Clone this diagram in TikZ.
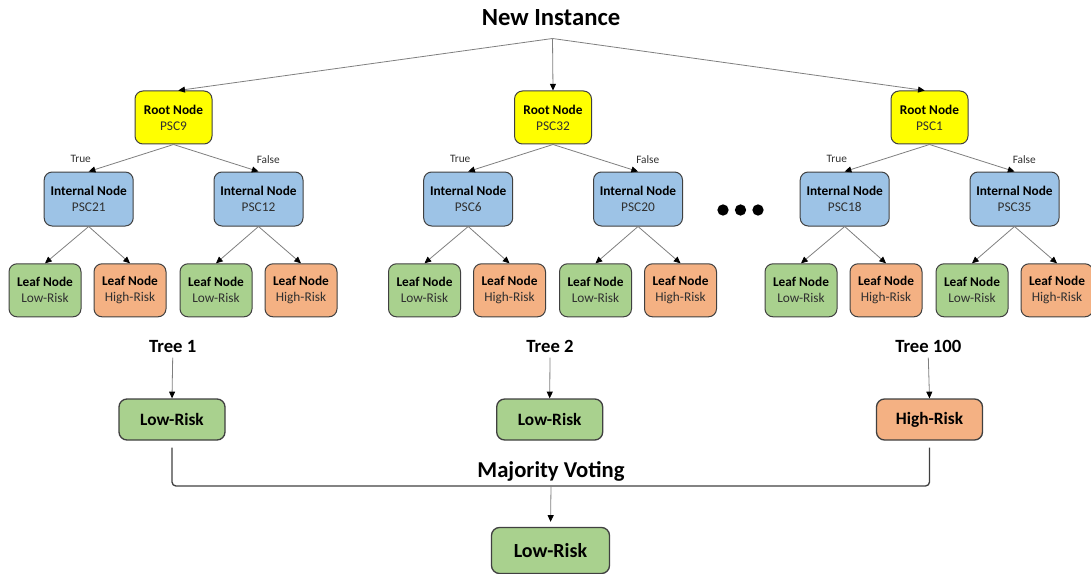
\documentclass[tikz,border=0pt]{standalone}
\usepackage{fontspec}
\setmainfont{Carlito}
\usetikzlibrary{arrows.meta,calc}

\definecolor{rootfill}{HTML}{FFFF00}
\definecolor{intfill}{HTML}{9DC3E6}
\definecolor{lowfill}{HTML}{A9D18E}
\definecolor{highfill}{HTML}{F4B183}
\definecolor{boxedge}{HTML}{404040}
\definecolor{linkgray}{HTML}{7F7F7F}
\definecolor{subtext}{HTML}{303030}

% two-line node label: bold heading, regular value below
\newcommand{\nodetext}[2]{\textbf{#1}\\\textcolor{subtext}{#2}}

\begin{document}
\begin{tikzpicture}[x=0.75pt,y=-0.75pt,
  box/.style={draw=boxedge, line width=0.75pt, rounded corners=6pt, align=center,
    inner sep=0pt, font=\fontsize{10}{12}\selectfont},
  rootbox/.style={box, fill=rootfill, minimum width=57.75pt, minimum height=39.75pt},
  intbox/.style={box, fill=intfill, minimum width=66.75pt, minimum height=40.5pt},
  leafbox/.style={box, minimum width=54pt, minimum height=39.75pt},
  lowleaf/.style={leafbox, fill=lowfill},
  highleaf/.style={leafbox, fill=highfill},
  votebox/.style={draw=boxedge, line width=1pt, rounded corners=6pt, inner sep=0pt,
    font=\bfseries\fontsize{13}{15}\selectfont, minimum width=79.5pt, minimum height=30.75pt},
  finalbox/.style={votebox, fill=lowfill, font=\bfseries\fontsize{15}{18}\selectfont,
    minimum width=88.5pt, minimum height=34.5pt},
  link/.style={draw=linkgray, line width=0.6pt, -{Triangle[length=5pt,width=4.5pt,color=black]}},
  branchlabel/.style={font=\fontsize{8.5}{10}\selectfont, text=subtext, inner sep=0pt},
  treelabel/.style={font=\bfseries\fontsize{14}{16}\selectfont},
  heading/.style={font=\bfseries\fontsize{17}{20}\selectfont},
  dot/.style={circle, fill=black, inner sep=0pt, minimum size=8.5pt},
  voteline/.style={draw=boxedge, line width=1pt, rounded corners=3pt}
]
\useasboundingbox (0,0) rectangle (1091,574);

% incoming instance
\node[font=\bfseries\fontsize{18.5}{22}\selectfont] (title) at (551,18) {New Instance};
\coordinate (apex) at (552.5,38.5);

% three decision trees
\foreach \t/\dx/\rl/\il/\ir in {1/0/PSC9/PSC21/PSC12, 2/379.5/PSC32/PSC6/PSC20, 3/756/PSC1/PSC18/PSC35}{
  \node[rootbox] (r\t) at (173.5+\dx,117.5) {\nodetext{Root Node}{\rl}};
  \node[intbox] (a\t) at (88.7+\dx,199) {\nodetext{Internal Node}{\il}};
  \node[intbox] (b\t) at (258.5+\dx,199) {\nodetext{Internal Node}{\ir}};
  \node[lowleaf]  (la\t) at (45+\dx,290.3)  {\nodetext{Leaf Node}{Low-Risk}};
  \node[highleaf] (ha\t) at (130+\dx,290.3) {\nodetext{Leaf Node}{High-Risk}};
  \node[lowleaf]  (lb\t) at (216+\dx,290.3) {\nodetext{Leaf Node}{Low-Risk}};
  \node[highleaf] (hb\t) at (301+\dx,290.3) {\nodetext{Leaf Node}{High-Risk}};
  \node[branchlabel] (tr\t) at (80.7+\dx,159.3) {True};
  \node[branchlabel] (fa\t) at (268.3+\dx,159.3) {False};
  \draw[link] (r\t.south) -- (a\t.north);
  \draw[link] (r\t.south) -- (b\t.north);
  \draw[link] (a\t.south) -- (la\t.north);
  \draw[link] (a\t.south) -- (ha\t.north);
  \draw[link] (b\t.south) -- (lb\t.north);
  \draw[link] (b\t.south) -- (hb\t.north);
}

\draw[link] (apex) -- (r1.80);
\draw[link] (apex) -- (r2.north);
\draw[link] (apex) -- (r3.100);

% ellipsis between trees
\node[dot] (d1) at (723,210) {};
\node[dot] (d2) at (740.5,210) {};
\node[dot] (d3) at (758,210) {};

% per-tree predictions
\node[treelabel] (t1) at (172.7,346.7) {Tree 1};
\node[treelabel] (t2) at (550,346.7) {Tree 2};
\node[treelabel] (t3) at (928.3,346.7) {Tree 100};
\node[votebox, fill=lowfill]  (v1) at (172,419.5) {Low-Risk};
\node[votebox, fill=lowfill]  (v2) at (549.7,419.5) {Low-Risk};
\node[votebox, fill=highfill] (v3) at (929.5,419.5) {High-Risk};
\draw[link] (t1.south) -- (v1.north);
\draw[link] (t2.south) -- (v2.north);
\draw[link] (t3.south) -- (v3.north);

% aggregation
\coordinate (join) at (551,486);
\node[heading] (mv) at (551,471) {Majority Voting};
\draw[voteline] ($(v1.south)+(0,7)$) -- (v1.south |- join) -- (v3.south |- join) -- ($(v3.south)+(0,7)$);
\node[finalbox] (final) at (550.5,550.5) {Low-Risk};
\draw[link, shorten >=3.75pt] (join) -- (final.north);
\end{tikzpicture}
\end{document}
